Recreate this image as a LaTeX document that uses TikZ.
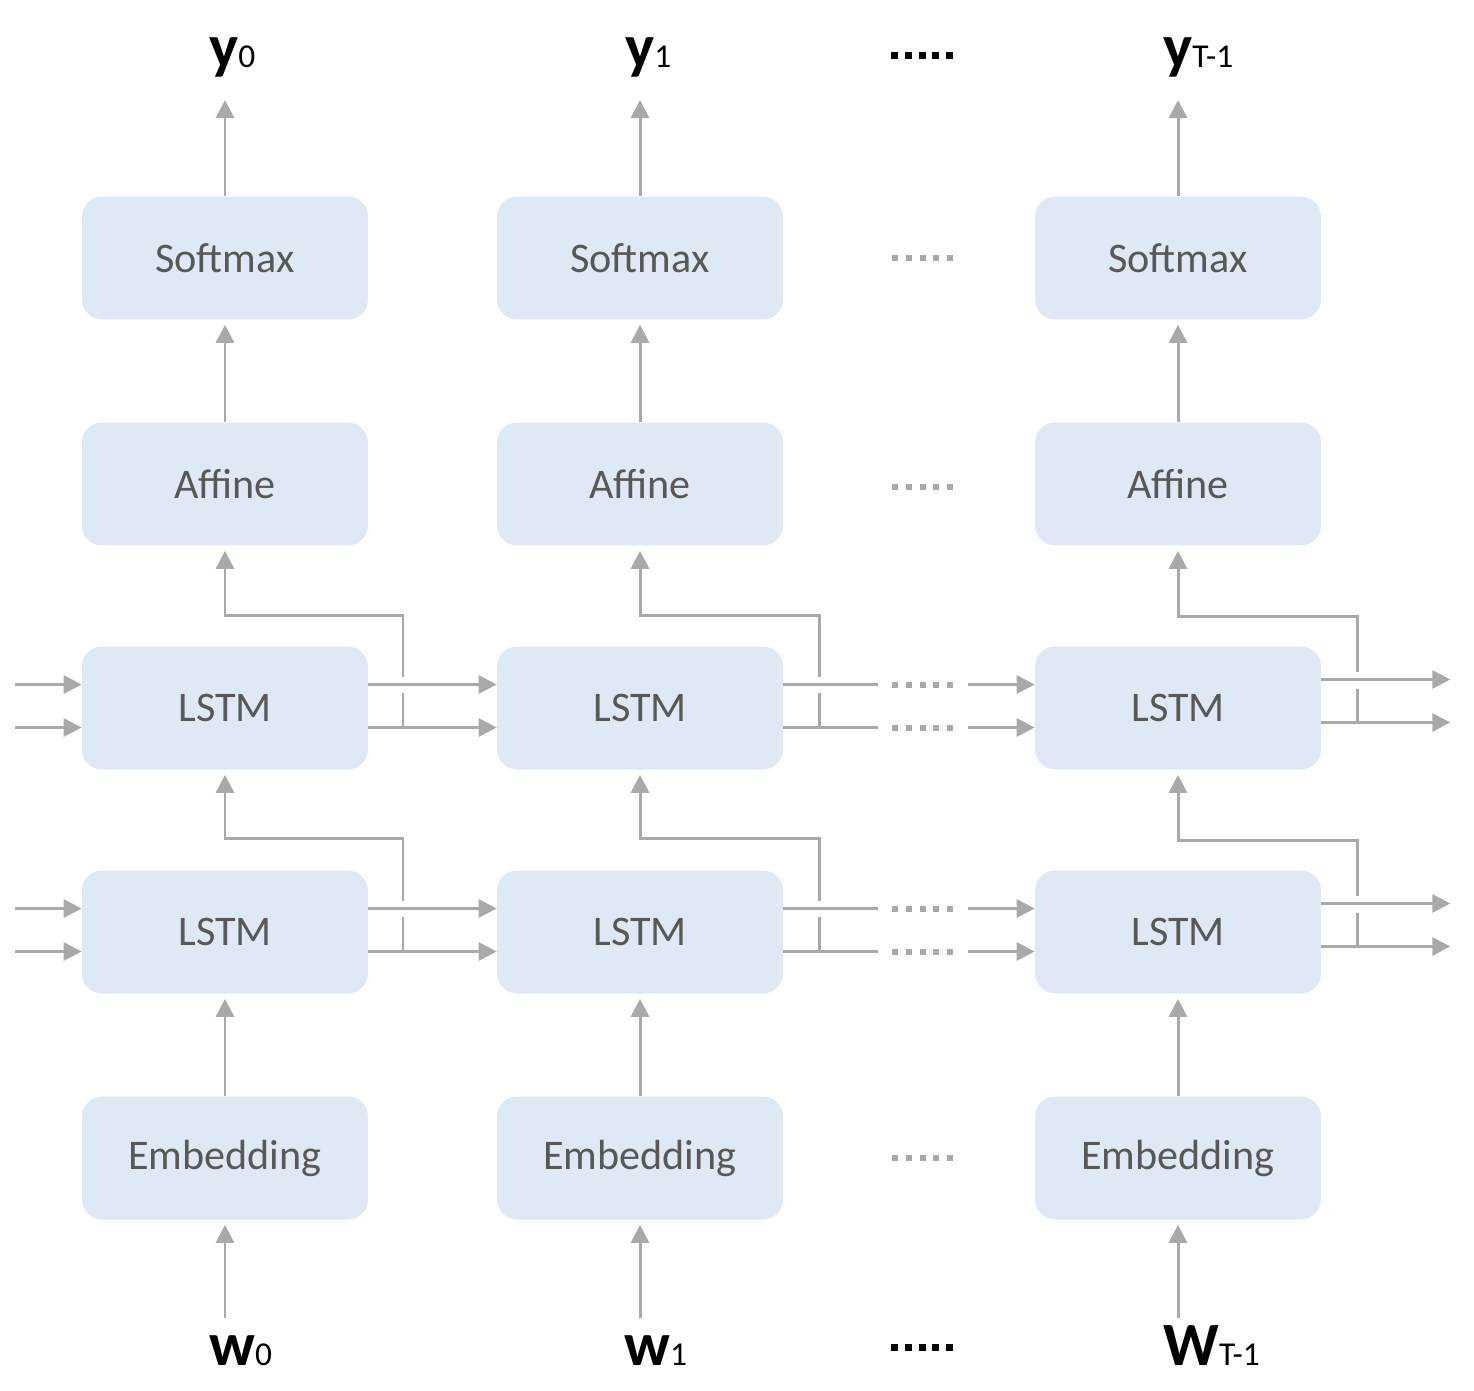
\documentclass[tikz,border=0pt]{standalone}
\usepackage{fontspec}
\setmainfont{Carlito}
\usetikzlibrary{arrows.meta,positioning,calc}
\definecolor{boxfill}{HTML}{DFE9F5}
\definecolor{linegray}{HTML}{A9A9A9}
\definecolor{textgray}{HTML}{585858}
\tikzstyle{layer} = [rounded corners=0.4cm, fill=boxfill, minimum width=5.72cm, minimum height=2.46cm, text=textgray, font=\fontsize{24}{28}\selectfont]
\tikzstyle{wire} = [draw=linegray, line width=1.7pt]
\tikzstyle{arrow} = [wire, -{Triangle[length=0.36cm,width=0.36cm]}]
\tikzstyle{dots} = [draw=linegray, line width=0.12cm, dash pattern=on 0.12cm off 0.155cm]
\tikzstyle{blackdots} = [dots, draw=black, line width=0.14cm, dash pattern=on 0.14cm off 0.135cm]
\tikzstyle{lbl} = [anchor=base west, inner sep=0pt, font=\fontsize{35}{40}\selectfont\bfseries]
\newcommand{\lblsub}[1]{{\fontsize{19}{21}\selectfont\mdseries #1}}

\begin{document}
\begin{tikzpicture}[x=0.02cm,y=-0.02cm]
\useasboundingbox (0,0) rectangle (1474,1390);
% t = 0
\node[layer] (soft0) at (225,258) {Softmax};
\node[layer] (aff0) at (225,484) {Affine};
\node[layer] (lstmb0) at (225,708) {LSTM};
\node[layer] (lstma0) at (225,932) {LSTM};
\node[layer] (emb0) at (225,1158) {Embedding};
% t = 1
\node[layer] (soft1) at (640,258) {Softmax};
\node[layer] (aff1) at (640,484) {Affine};
\node[layer] (lstmb1) at (640,708) {LSTM};
\node[layer] (lstma1) at (640,932) {LSTM};
\node[layer] (emb1) at (640,1158) {Embedding};
% t = T-1
\node[layer] (soft2) at (1178,258) {Softmax};
\node[layer] (aff2) at (1178,484) {Affine};
\node[layer] (lstmb2) at (1178,708) {LSTM};
\node[layer] (lstma2) at (1178,932) {LSTM};
\node[layer] (emb2) at (1178,1158) {Embedding};
% labels
\node[lbl] (y0) at (209,67) {y\lblsub{0}};
\node[lbl] (y1) at (625,67) {y\lblsub{1}};
\node[lbl] (y2) at (1163,67) {y\lblsub{T-1}};
\node[lbl] (w0) at (209,1365) {w\lblsub{0}};
\node[lbl] (w1) at (624,1365) {w\lblsub{1}};
\node[lbl] (w2) at (1163,1365) {W\lblsub{T-1}};
\draw[blackdots] (891,55) -- (954,55);
\draw[blackdots] (891,1347) -- (954,1347);
\coordinate (top0) at (225,100);
\coordinate (top1) at (640,100);
\coordinate (top2) at (1178,100);
\coordinate (bot0) at (225,1318);
\coordinate (bot1) at (640,1318);
\coordinate (bot2) at (1178,1318);
% vertical arrows
\draw[arrow] (soft0.north) -- (top0);
\draw[arrow] (soft1.north) -- (top1);
\draw[arrow] (soft2.north) -- (top2);
\draw[arrow, shorten >=0.1cm] (aff0.north) -- (soft0.south);
\draw[arrow, shorten >=0.1cm] (aff1.north) -- (soft1.south);
\draw[arrow, shorten >=0.1cm] (aff2.north) -- (soft2.south);
\draw[arrow, shorten >=0.1cm] (emb0.north) -- (lstma0.south);
\draw[arrow, shorten >=0.1cm] (emb1.north) -- (lstma1.south);
\draw[arrow, shorten >=0.1cm] (emb2.north) -- (lstma2.south);
\draw[arrow, shorten >=0.1cm] (bot0) -- (emb0.south);
\draw[arrow, shorten >=0.1cm] (bot1) -- (emb1.south);
\draw[arrow, shorten >=0.1cm] (bot2) -- (emb2.south);
% h goes up
\draw[wire] (403,728) -- (403,693);
\draw[arrow, shorten >=0.1cm] (403,677) -- (403,615) -- (225,615) -- (aff0.south);
\draw[wire] (403,952) -- (403,917);
\draw[arrow, shorten >=0.1cm] (403,901) -- (403,838) -- (225,838) -- (lstmb0.south);
\draw[wire] (819,728) -- (819,693);
\draw[arrow, shorten >=0.1cm] (819,677) -- (819,615) -- (640,615) -- (aff1.south);
\draw[wire] (819,952) -- (819,917);
\draw[arrow, shorten >=0.1cm] (819,901) -- (819,838) -- (640,838) -- (lstmb1.south);
\draw[wire] (1357,723) -- (1357,689);
\draw[arrow, shorten >=0.1cm] (1357,672) -- (1357,616) -- (1178,616) -- (aff2.south);
\draw[wire] (1357,947) -- (1357,913);
\draw[arrow, shorten >=0.1cm] (1357,896) -- (1357,840) -- (1178,840) -- (lstmb2.south);
% c and h in
\draw[arrow] ([yshift=0.47cm]lstmb0.west) ++(-67,0) -- ([yshift=0.47cm]lstmb0.west);
\draw[arrow] ([yshift=-0.39cm]lstmb0.west) ++(-67,0) -- ([yshift=-0.39cm]lstmb0.west);
\draw[arrow] ([yshift=0.47cm]lstma0.west) ++(-67,0) -- ([yshift=0.47cm]lstma0.west);
\draw[arrow] ([yshift=-0.39cm]lstma0.west) ++(-67,0) -- ([yshift=-0.39cm]lstma0.west);
% t = 0 to t = 1
\draw[arrow] ([yshift=0.47cm]lstmb0.east) -- ([yshift=0.47cm]lstmb1.west);
\draw[arrow] ([yshift=-0.39cm]lstmb0.east) -- ([yshift=-0.39cm]lstmb1.west);
\draw[arrow] ([yshift=0.47cm]lstma0.east) -- ([yshift=0.47cm]lstma1.west);
\draw[arrow] ([yshift=-0.39cm]lstma0.east) -- ([yshift=-0.39cm]lstma1.west);
% t = 1 to t = T-1
\draw[wire] ([yshift=0.47cm]lstmb1.east) -- ++(95,0);
\draw[wire] ([yshift=-0.39cm]lstmb1.east) -- ++(95,0);
\draw[wire] ([yshift=0.47cm]lstma1.east) -- ++(95,0);
\draw[wire] ([yshift=-0.39cm]lstma1.east) -- ++(95,0);
\draw[dots] (892,685) -- (953,685);
\draw[dots] (892,728) -- (953,728);
\draw[dots] (892,909) -- (953,909);
\draw[dots] (892,952) -- (953,952);
\draw[arrow] ([yshift=0.47cm]lstmb2.west) ++(-67,0) -- ([yshift=0.47cm]lstmb2.west);
\draw[arrow] ([yshift=-0.39cm]lstmb2.west) ++(-67,0) -- ([yshift=-0.39cm]lstmb2.west);
\draw[arrow] ([yshift=0.47cm]lstma2.west) ++(-67,0) -- ([yshift=0.47cm]lstma2.west);
\draw[arrow] ([yshift=-0.39cm]lstma2.west) ++(-67,0) -- ([yshift=-0.39cm]lstma2.west);
% c and h out
\draw[arrow] ([yshift=0.57cm]lstmb2.east) -- ++(129,0);
\draw[arrow] ([yshift=-0.29cm]lstmb2.east) -- ++(129,0);
\draw[arrow] ([yshift=0.57cm]lstma2.east) -- ++(129,0);
\draw[arrow] ([yshift=-0.29cm]lstma2.east) -- ++(129,0);
% gaps between columns
\draw[dots] (892,258) -- (953,258);
\draw[dots] (892,487) -- (953,487);
\draw[dots] (892,1158) -- (953,1158);
\end{tikzpicture}
\end{document}
